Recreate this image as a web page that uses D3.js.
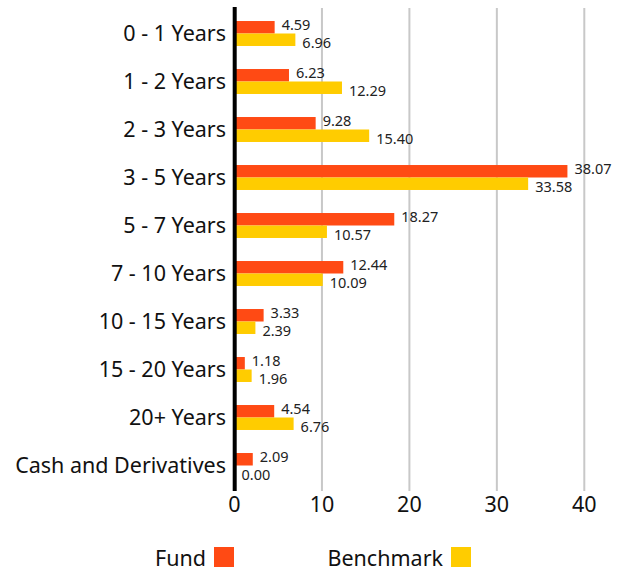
<!DOCTYPE html>
<html><head><meta charset="utf-8">
<script src="https://cdn.jsdelivr.net/npm/d3@7"></script>
<style>body{margin:0;background:#fff}svg{display:block}</style>
</head><body>
<svg id="c" width="626" height="574"></svg>
<script>
const categories = ["0 - 1 Years","1 - 2 Years","2 - 3 Years","3 - 5 Years","5 - 7 Years","7 - 10 Years","10 - 15 Years","15 - 20 Years","20+ Years","Cash and Derivatives"];
const fund = [4.59,6.23,9.28,38.07,18.27,12.44,3.33,1.18,4.54,2.09];
const benchmark = [6.96,12.29,15.40,33.58,10.57,10.09,2.39,1.96,6.76,0.00];
const ticks = [0,10,20,30,40];
const seriesNames = ["Fund","Benchmark"];
const colors = ["#FF4A14","#FFCC00"];
const font = "'Noto Sans', sans-serif";

const svg = d3.select("#c");
const x = d3.scaleLinear().domain([0,40]).range([234.5,584.3]);
const y = d3.scaleBand().domain(categories).range([9.5,489.5]).paddingInner(0.48).paddingOuter(0.24);
const bh = y.bandwidth()/2;

// gridlines
svg.append("g").selectAll("line").data(ticks.filter(t=>t>0)).join("line")
  .attr("x1",d=>x(d)).attr("x2",d=>x(d)).attr("y1",8).attr("y2",491)
  .attr("stroke","#c8c8c8").attr("stroke-width",2);

// bars
const rows = categories.map((c,i)=>({c,f:fund[i],b:benchmark[i]}));
const g = svg.append("g");
g.selectAll("rect.f").data(rows).join("rect").attr("class","f")
  .attr("x",x(0)).attr("y",d=>y(d.c)).attr("width",d=>x(d.f)-x(0)).attr("height",bh).attr("fill",colors[0]);
g.selectAll("rect.b").data(rows).join("rect").attr("class","b")
  .attr("x",x(0)).attr("y",d=>y(d.c)+bh).attr("width",d=>x(d.b)-x(0)).attr("height",bh).attr("fill",colors[1]);

// value labels
g.selectAll("text.fl").data(rows).join("text").attr("class","fl")
  .attr("x",d=>x(d.f)+7).attr("y",d=>y(d.c)+bh/2-2).attr("dy","0.35em")
  .attr("font-family",font).attr("font-size",14.5).attr("fill","#222").text(d=>d.f.toFixed(2));
g.selectAll("text.bl").data(rows).join("text").attr("class","bl")
  .attr("x",d=>x(d.b)+7).attr("y",d=>y(d.c)+bh*1.5+3.5).attr("dy","0.35em")
  .attr("font-family",font).attr("font-size",14.5).attr("fill","#222").text(d=>d.b.toFixed(2));

// y axis line
svg.append("rect").attr("x",x(0)-1.8).attr("y",7).attr("width",4).attr("height",484).attr("fill","#000");

// category labels
svg.append("g").selectAll("text").data(categories).join("text")
  .attr("x",226).attr("y",d=>y(d)+y.bandwidth()/2).attr("dy","0.35em")
  .attr("text-anchor","end").attr("font-family",font).attr("font-size",21.5).attr("fill","#111").text(d=>d);

// x tick labels
svg.append("g").selectAll("text").data(ticks).join("text")
  .attr("x",d=>x(d)).attr("y",504).attr("dy","0.35em").attr("text-anchor","middle")
  .attr("font-family",font).attr("font-size",21.5).attr("fill","#111").text(d=>d);

// legend
const leg = [{n:seriesNames[0],c:colors[0],sx:214},{n:seriesNames[1],c:colors[1],sx:451}];
const lg = svg.append("g");
lg.selectAll("rect").data(leg).join("rect").attr("x",d=>d.sx).attr("y",547).attr("width",20).attr("height",20).attr("fill",d=>d.c);
lg.selectAll("text").data(leg).join("text").attr("x",d=>d.sx-8).attr("y",558).attr("dy","0.35em")
  .attr("text-anchor","end").attr("font-family",font).attr("font-size",21.5).attr("fill","#111").text(d=>d.n);
</script>
</body></html>
